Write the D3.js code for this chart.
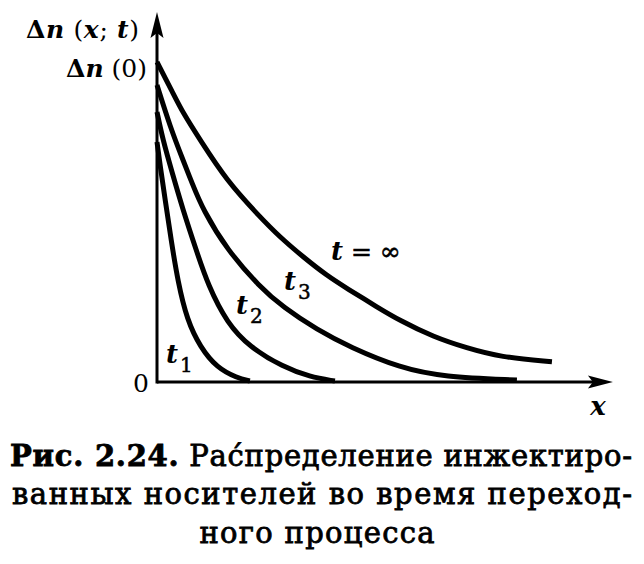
<!DOCTYPE html>
<html><head><meta charset="utf-8">
<script src="https://cdn.jsdelivr.net/npm/d3@7"></script>
<style>
html,body{margin:0;padding:0;background:#fff;}
svg{display:block;}
text{font-family:"DejaVu Serif",serif;fill:#000;}
</style></head>
<body>
<svg id="chart" width="644" height="564"></svg>
<script>
// ---- data (x: arbitrary units 0..100, y: Δn as % of Δn(0)) ----
const curveNames = ["t1", "t2", "t3", "tInf"];
const t1X   = [0, 0.7, 1.8, 3.1, 4.6, 6.6, 9.5, 13.2, 17.6, 20.4];
const t1Y   = [75, 67.5, 56.9, 44.4, 31.3, 19.4, 10.9, 4.4, 1.3, 0.3];
const t2X   = [0, 1.3, 3.3, 5.7, 8.6, 11.2, 15.4, 20.4, 27.7, 33.6, 39.1];
const t2Y   = [84.4, 75.6, 65.6, 53.8, 41.3, 30.3, 18.4, 10.9, 4.7, 1.6, 0.3];
const t3X   = [0, 2.9, 5.7, 7.7, 10.1, 15.4, 22.6, 27.7, 35.2, 42.4, 53.4, 62.9, 79.1];
const t3Y   = [92.8, 79.7, 69.4, 62.2, 53.8, 41.3, 29.7, 23.4, 16.3, 10.9, 4.4, 1.6, 0.6];
const tInfX = [0, 3.5, 5.7, 9.5, 15.2, 22.6, 27.0, 32.1, 37.4, 41.8, 48.4, 53.4, 60.7, 68.1, 75.4, 86.8];
const tInfY = [100, 90.3, 84.1, 75.6, 63.1, 51.6, 45.3, 39.1, 33.2, 29.2, 23.4, 19.2, 14.1, 10.6, 7.8, 6.3];
const yAxisLabel = ["Δ", "n", " (", "x", "; ", "t", ")"];
const y0Label = "Δn (0)";
const originLabel = "0";
const xAxisLabel = "x";
const captionLines = [
  ["Рис. 2.24.", " Рас\u0301пределение инжектиро-"],
  ["", "ванных носителей во время переход-"],
  ["", "ного процесса"]
];

// ---- layout ----
const svg = d3.select("#chart");
const x = d3.scaleLinear().domain([0, 100]).range([157, 612]);
const y = d3.scaleLinear().domain([0, 100]).range([382, 62]);
const xMax = 100.2, yMax = 115.6;

// axes
const ax = svg.append("g");
ax.append("line").attr("x1", x(0)).attr("x2", x(xMax) - 18).attr("y1", y(0)).attr("y2", y(0))
  .attr("stroke", "#000").attr("stroke-width", 3);
ax.append("line").attr("x1", x(0)).attr("x2", x(0)).attr("y1", y(0) + 1.5).attr("y2", y(yMax) + 18)
  .attr("stroke", "#000").attr("stroke-width", 3);
ax.append("path").attr("d", `M${x(xMax)},${y(0)} L${x(xMax) - 25},${y(0) - 6.5} L${x(xMax) - 20},${y(0)} L${x(xMax) - 25},${y(0) + 6.5} Z`).attr("fill", "#000");
ax.append("path").attr("d", `M${x(0)},${y(yMax)} L${x(0) - 6.5},${y(yMax) + 26} L${x(0)},${y(yMax) + 21} L${x(0) + 6.5},${y(yMax) + 26} Z`).attr("fill", "#000");

// curves
const series = [[t1X, t1Y], [t2X, t2Y], [t3X, t3Y], [tInfX, tInfY]];
const line = d3.line().x(d => x(d[0])).y(d => y(d[1])).curve(d3.curveBasis);
svg.append("g").selectAll("path").data(series).join("path")
  .attr("d", s => line(s[0].map((v, i) => [v, s[1][i]])))
  .attr("fill", "none").attr("stroke", "#000").attr("stroke-width", 5)
  .attr("stroke-linecap", "butt").attr("stroke-linejoin", "round");

// axis labels
const yl = svg.append("text").attr("x", 139).attr("y", 38).attr("text-anchor", "end")
  .attr("font-size", 25).attr("textLength", 113).attr("lengthAdjust", "spacing");
yAxisLabel.forEach(s => {
  const it = (s === "n" || s === "x" || s === "t");
  yl.append("tspan").text(s).attr("font-style", it ? "italic" : "normal")
    .attr("font-weight", (it || s === "Δ") ? "bold" : "normal");
});
const y0 = svg.append("text").attr("x", 147).attr("y", 77).attr("text-anchor", "end").attr("font-size", 25);
y0.append("tspan").text("Δ").attr("font-weight", "bold");
y0.append("tspan").text("n").attr("font-weight", "bold").attr("font-style", "italic");
y0.append("tspan").text(" (0)");
svg.append("text").attr("x", 149).attr("y", 392).attr("text-anchor", "end").attr("font-size", 25).text(originLabel);
svg.append("text").attr("x", 598).attr("y", 415).attr("text-anchor", "middle").attr("font-size", 26)
  .attr("font-style", "italic").attr("font-weight", "bold").text(xAxisLabel);

// curve labels
function tLabel(px, py, sub) {
  const t = svg.append("text").attr("x", px).attr("y", py).attr("font-size", 26)
    .attr("font-style", "italic").attr("font-weight", "bold");
  t.append("tspan").text("t");
  t.append("tspan").text(sub).attr("font-size", 20).attr("font-style", "normal").attr("font-weight", "normal")
    .attr("stroke", "#000").attr("stroke-width", 0.5).attr("dx", 2).attr("dy", 9);
}
tLabel(166, 363, "1");
tLabel(236, 314, "2");
tLabel(284, 290, "3");
const ti = svg.append("text").attr("x", 331).attr("y", 260).attr("font-size", 26);
ti.append("tspan").text("t").attr("font-style", "italic").attr("font-weight", "bold");
ti.append("tspan").text(" = ∞").attr("font-size", 25).attr("stroke", "#000").attr("stroke-width", 0.6);

// caption
const capY = [466, 504, 543];
captionLines.forEach((ln, i) => {
  const t = svg.append("text").attr("y", capY[i]).attr("font-size", 29)
    .attr("stroke", "#000").attr("stroke-width", 0.8);
  if (i < 2) {
    t.attr("x", i === 0 ? 10 : 12).attr("textLength", i === 0 ? 622 : 620).attr("lengthAdjust", "spacing");
  } else {
    t.attr("x", 317).attr("text-anchor", "middle").attr("textLength", 235).attr("lengthAdjust", "spacing");
  }
  if (ln[0]) t.append("tspan").text(ln[0]).attr("font-weight", "bold");
  t.append("tspan").text(ln[1]);
});
</script>
</body></html>
